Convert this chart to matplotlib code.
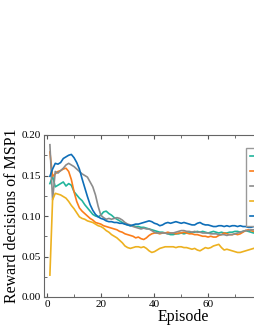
import numpy as np
import matplotlib
matplotlib.use("Agg")
import matplotlib.pyplot as plt
from matplotlib.ticker import MultipleLocator

plt.rcParams["font.family"] = ["Liberation Serif", "DejaVu Serif"]
plt.rcParams["mathtext.fontset"] = "stix"

# Episodes 1..80 (the axis goes further but the picture is cut at ~78)
episodes = np.arange(1, 81)

teal = [0.140, 0.149, 0.136, 0.138, 0.140, 0.142, 0.137, 0.140, 0.138, 0.130,
        0.126, 0.122, 0.119, 0.114, 0.110, 0.106, 0.102, 0.100, 0.099, 0.101,
        0.105, 0.106, 0.103, 0.101, 0.098, 0.096, 0.094, 0.092, 0.090, 0.089,
        0.088, 0.088, 0.087, 0.087, 0.086, 0.086, 0.085, 0.084, 0.083, 0.082,
        0.081, 0.080, 0.080, 0.079, 0.078, 0.077, 0.077, 0.078, 0.078, 0.079,
        0.078, 0.079, 0.079, 0.080, 0.080, 0.081, 0.080, 0.081, 0.080, 0.079,
        0.080, 0.081, 0.080, 0.079, 0.080, 0.079, 0.079, 0.080, 0.080, 0.081,
        0.081, 0.080, 0.081, 0.082, 0.081, 0.080, 0.079, 0.079, 0.080, 0.080]

orange = [0.179, 0.149, 0.152, 0.155, 0.156, 0.158, 0.159, 0.155, 0.145, 0.130,
          0.118, 0.110, 0.106, 0.103, 0.100, 0.097, 0.095, 0.092, 0.091, 0.090,
          0.088, 0.087, 0.086, 0.085, 0.084, 0.083, 0.081, 0.080, 0.078, 0.077,
          0.076, 0.075, 0.073, 0.074, 0.072, 0.071, 0.073, 0.076, 0.078, 0.079,
          0.079, 0.078, 0.079, 0.079, 0.080, 0.079, 0.079, 0.078, 0.079, 0.079,
          0.080, 0.079, 0.078, 0.078, 0.077, 0.077, 0.076, 0.075, 0.075, 0.074,
          0.075, 0.074, 0.074, 0.076, 0.077, 0.079, 0.078, 0.077, 0.077, 0.078,
          0.077, 0.078, 0.080, 0.082, 0.083, 0.082, 0.081, 0.082, 0.083, 0.083]

gray = [0.188, 0.120, 0.155, 0.153, 0.156, 0.159, 0.163, 0.165, 0.163, 0.161,
        0.158, 0.155, 0.152, 0.150, 0.148, 0.142, 0.136, 0.126, 0.112, 0.101,
        0.098, 0.096, 0.097, 0.096, 0.097, 0.098, 0.097, 0.095, 0.092, 0.090,
        0.089, 0.087, 0.086, 0.085, 0.084, 0.085, 0.084, 0.084, 0.082, 0.080,
        0.079, 0.079, 0.079, 0.079, 0.078, 0.079, 0.079, 0.080, 0.081, 0.082,
        0.082, 0.081, 0.081, 0.080, 0.081, 0.080, 0.080, 0.079, 0.079, 0.079,
        0.078, 0.078, 0.078, 0.077, 0.077, 0.077, 0.076, 0.077, 0.077, 0.078,
        0.079, 0.080, 0.081, 0.082, 0.082, 0.083, 0.083, 0.082, 0.082, 0.083]

yellow = [0.027, 0.120, 0.128, 0.127, 0.126, 0.124, 0.122, 0.118, 0.113, 0.109,
          0.104, 0.099, 0.097, 0.096, 0.094, 0.093, 0.092, 0.090, 0.088, 0.087,
          0.085, 0.082, 0.080, 0.077, 0.075, 0.073, 0.070, 0.067, 0.063, 0.061,
          0.060, 0.061, 0.062, 0.062, 0.061, 0.062, 0.060, 0.057, 0.055, 0.056,
          0.058, 0.060, 0.061, 0.062, 0.062, 0.062, 0.062, 0.061, 0.062, 0.062,
          0.061, 0.061, 0.060, 0.059, 0.060, 0.058, 0.057, 0.059, 0.061, 0.060,
          0.061, 0.063, 0.064, 0.065, 0.061, 0.058, 0.059, 0.058, 0.057, 0.056,
          0.055, 0.055, 0.056, 0.057, 0.058, 0.059, 0.060, 0.061, 0.061, 0.062]

blue = [0.149, 0.158, 0.165, 0.164, 0.166, 0.171, 0.173, 0.175, 0.176, 0.172,
        0.166, 0.158, 0.146, 0.135, 0.124, 0.114, 0.107, 0.102, 0.099, 0.097,
        0.096, 0.094, 0.093, 0.093, 0.092, 0.092, 0.091, 0.091, 0.090, 0.089,
        0.088, 0.089, 0.090, 0.090, 0.091, 0.092, 0.093, 0.094, 0.093, 0.091,
        0.090, 0.088, 0.089, 0.091, 0.092, 0.091, 0.092, 0.093, 0.092, 0.091,
        0.092, 0.091, 0.090, 0.089, 0.089, 0.091, 0.092, 0.090, 0.089, 0.089,
        0.088, 0.087, 0.087, 0.088, 0.088, 0.087, 0.088, 0.087, 0.088, 0.088,
        0.087, 0.088, 0.087, 0.087, 0.086, 0.086, 0.087, 0.088, 0.089, 0.088]

series = [teal, orange, gray, yellow, blue]
labels = ["Case 1", "Case 2", "Case 3", "Case 4", "Case 5"]
colors = ["#22b59c", "#fb7d1a", "#8c8c8c", "#edb120", "#0e6eb8"]

fig = plt.figure(figsize=(2.55, 3.30), dpi=100)
# axes run past the right edge of the figure, as in the cropped original
ax = fig.add_axes([44 / 255, 33 / 330, 278 / 255, 162 / 330])

for ys, lab, c in zip(series, labels, colors):
    ax.plot(episodes, ys, color=c, lw=1.2, label=lab)

ax.set_xlim(-1.2, 102.5)
ax.set_ylim(0, 0.20)
ax.xaxis.set_major_locator(MultipleLocator(20))
ax.xaxis.set_minor_locator(MultipleLocator(10))
ax.yaxis.set_major_locator(MultipleLocator(0.05))
ax.yaxis.set_minor_locator(MultipleLocator(0.025))
ax.yaxis.set_major_formatter(plt.FormatStrFormatter("%.2f"))

ax.tick_params(which="both", direction="in", top=True, right=True,
               labelsize=8, pad=2, color="#555555")
ax.tick_params(which="major", length=3)
ax.tick_params(which="minor", length=2)
for sp in ax.spines.values():
    sp.set_color("#666666")
    sp.set_linewidth(0.8)

ax.set_xlabel("Episode", fontsize=11.5, labelpad=0)
ax.set_ylabel("Reward decisions of MSP1", fontsize=11.5, labelpad=1)

ax.legend(loc="upper left", bbox_to_anchor=(246 / 255, 1 - 148 / 330),
          bbox_transform=fig.transFigure, borderaxespad=0, fontsize=7,
          frameon=True, fancybox=False, edgecolor="#999999",
          framealpha=1, borderpad=0.45, labelspacing=0.62,
          handlelength=2.0)

fig.savefig("out.png", dpi=100)
